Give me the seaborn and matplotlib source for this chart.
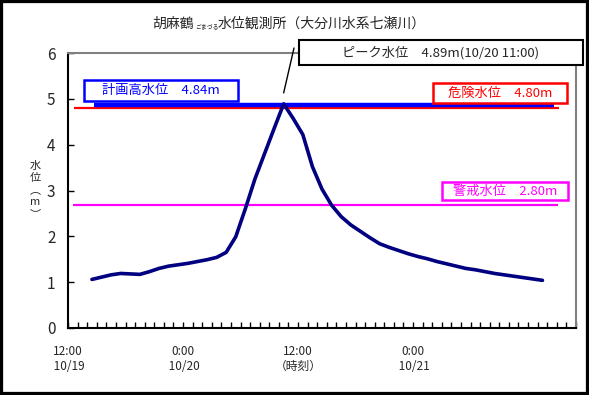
import numpy as np
import pandas as pd
import matplotlib
matplotlib.use("Agg")
import matplotlib.pyplot as plt
import seaborn as sns
from matplotlib.patches import Rectangle

# 時刻: 10/19 12:00 からの経過時間 (h)
hours = list(range(3, 51))
levels = [1.06, 1.11, 1.16, 1.19, 1.18, 1.17, 1.23, 1.30, 1.35, 1.38,
          1.41, 1.45, 1.49, 1.54, 1.65, 1.99, 2.60, 3.25, 3.80, 4.35,
          4.89, 4.57, 4.22, 3.52, 3.03, 2.68, 2.43, 2.25, 2.11, 1.97,
          1.84, 1.76, 1.69, 1.62, 1.56, 1.51, 1.45, 1.40, 1.35, 1.30,
          1.27, 1.23, 1.19, 1.16, 1.13, 1.10, 1.07, 1.04]

label_hours = [0, 12, 24, 36]
label_texts = ["12:00\n 10/19", "0:00\n 10/20", "12:00\n（時刻）", "0:00\n 10/21"]

level_names = ["計画高水位", "危険水位", "警戒水位"]
level_texts = ["4.84m", "4.80m", "2.80m"]
level_lines = [4.86, 4.80, 2.68]   # 図上の線の位置
level_colors = ["#0000ff", "#ff0000", "#ff00ff"]

peak_text = "ピーク水位　4.89m(10/20 11:00)"

df = pd.DataFrame({"hour": hours, "level": levels})

sns.set_style("white")
plt.rcParams["font.family"] = ["Noto Sans CJK JP", "DejaVu Sans"]

W, H = 589, 395
fig = plt.figure(figsize=(W / 100, H / 100), dpi=100)
ax = fig.add_axes([68 / W, 67 / H, 508 / W, 275 / H])


def px(x0, y0, x1, y1):
    # 画素座標 (左上原点) -> figure 座標の矩形
    return (x0 / W, 1 - y1 / H), (x1 - x0) / W, (y1 - y0) / H


# 基準水位の線
line_spans = [(3.2, 51.2), (1.1, 51.7), (1.0, 51.6)]
line_widths = [3.2, 1.6, 1.6]
for val, col, (a, b), lw, z in zip(level_lines, level_colors, line_spans, line_widths, [3, 2, 2]):
    ax.hlines(val, a, b, color=col, lw=lw, zorder=z)

sns.lineplot(data=df, x="hour", y="level", ax=ax, color="#000080", lw=2.6, zorder=5)

ax.set_xlim(0.5, 53.5)
ax.set_ylim(0, 6)
ax.set_yticks(range(0, 7))
ax.set_xticks([h + 0.5 for h in label_hours])
ax.set_xticklabels(label_texts)
ax.set_xticks(np.arange(0.5, 53.6, 1), minor=True)
ax.tick_params(which="both", direction="in", length=4, width=1, color="black",
               bottom=True, left=True)
ax.tick_params(axis="y", which="minor", left=False)
ax.tick_params(axis="y", pad=9, labelsize=11)
ax.tick_params(axis="x", pad=12, labelsize=8.5)
ax.set_xlabel("")
ax.set_ylabel("")
for s in ["left", "bottom"]:
    ax.spines[s].set_color("black")
    ax.spines[s].set_linewidth(1.5)
for s in ["top", "right"]:
    ax.spines[s].set_color("#808080")
    ax.spines[s].set_linewidth(1.5)

# ピーク注記
i_peak = int(np.argmax(levels))
ax.annotate("", xy=(hours[i_peak], levels[i_peak] + 0.24), xytext=(294, H - 48),
            textcoords="figure pixels",
            arrowprops=dict(arrowstyle="-", color="black", lw=1, shrinkA=0, shrinkB=0))
xy, w, h = px(299, 40, 583, 65)
fig.add_artist(Rectangle(xy, w, h, transform=fig.transFigure, fc="white",
                         ec="black", lw=1.5, zorder=10))
fig.text((299 + 583) / 2 / W, 1 - 52.5 / H, peak_text, ha="center", va="center",
         fontsize=9.5, zorder=11)

# 基準水位ラベル
boxes = [(84, 80, 238, 101), (433, 83, 567, 103), (442, 182, 568, 200)]
for name, txt, col, (x0, y0, x1, y1) in zip(level_names, level_texts, level_colors, boxes):
    xy, w, h = px(x0, y0, x1, y1)
    fig.add_artist(Rectangle(xy, w, h, transform=fig.transFigure, fc="white",
                             ec=col, lw=1.8, zorder=10))
    fig.text((x0 + x1) / 2 / W, 1 - (y0 + y1) / 2 / H, name + "　" + txt,
             ha="center", va="center", color=col, fontsize=9.5, zorder=11)

# タイトル
fig.text(152 / W, 1 - 24 / H, "胡麻鶴", ha="left", va="center", fontsize=10)
fig.text(195 / W, 1 - 26 / H, "ごまづる", ha="left", va="center", fontsize=4.2)
fig.text(218 / W, 1 - 24 / H, "水位観測所（大分川水系七瀬川）", ha="left", va="center",
         fontsize=10)

# 縦軸ラベル
fig.text(35 / W, 1 - 190 / H, "水\n位\n︵\nm\n︶", ha="center", va="center",
         fontsize=8, linespacing=1.25)

# 外枠
fig.add_artist(Rectangle((0, 0), 1, 1, transform=fig.transFigure, fill=False,
                         ec="black", lw=4.5, zorder=20))

fig.savefig("out.png", dpi=100)
